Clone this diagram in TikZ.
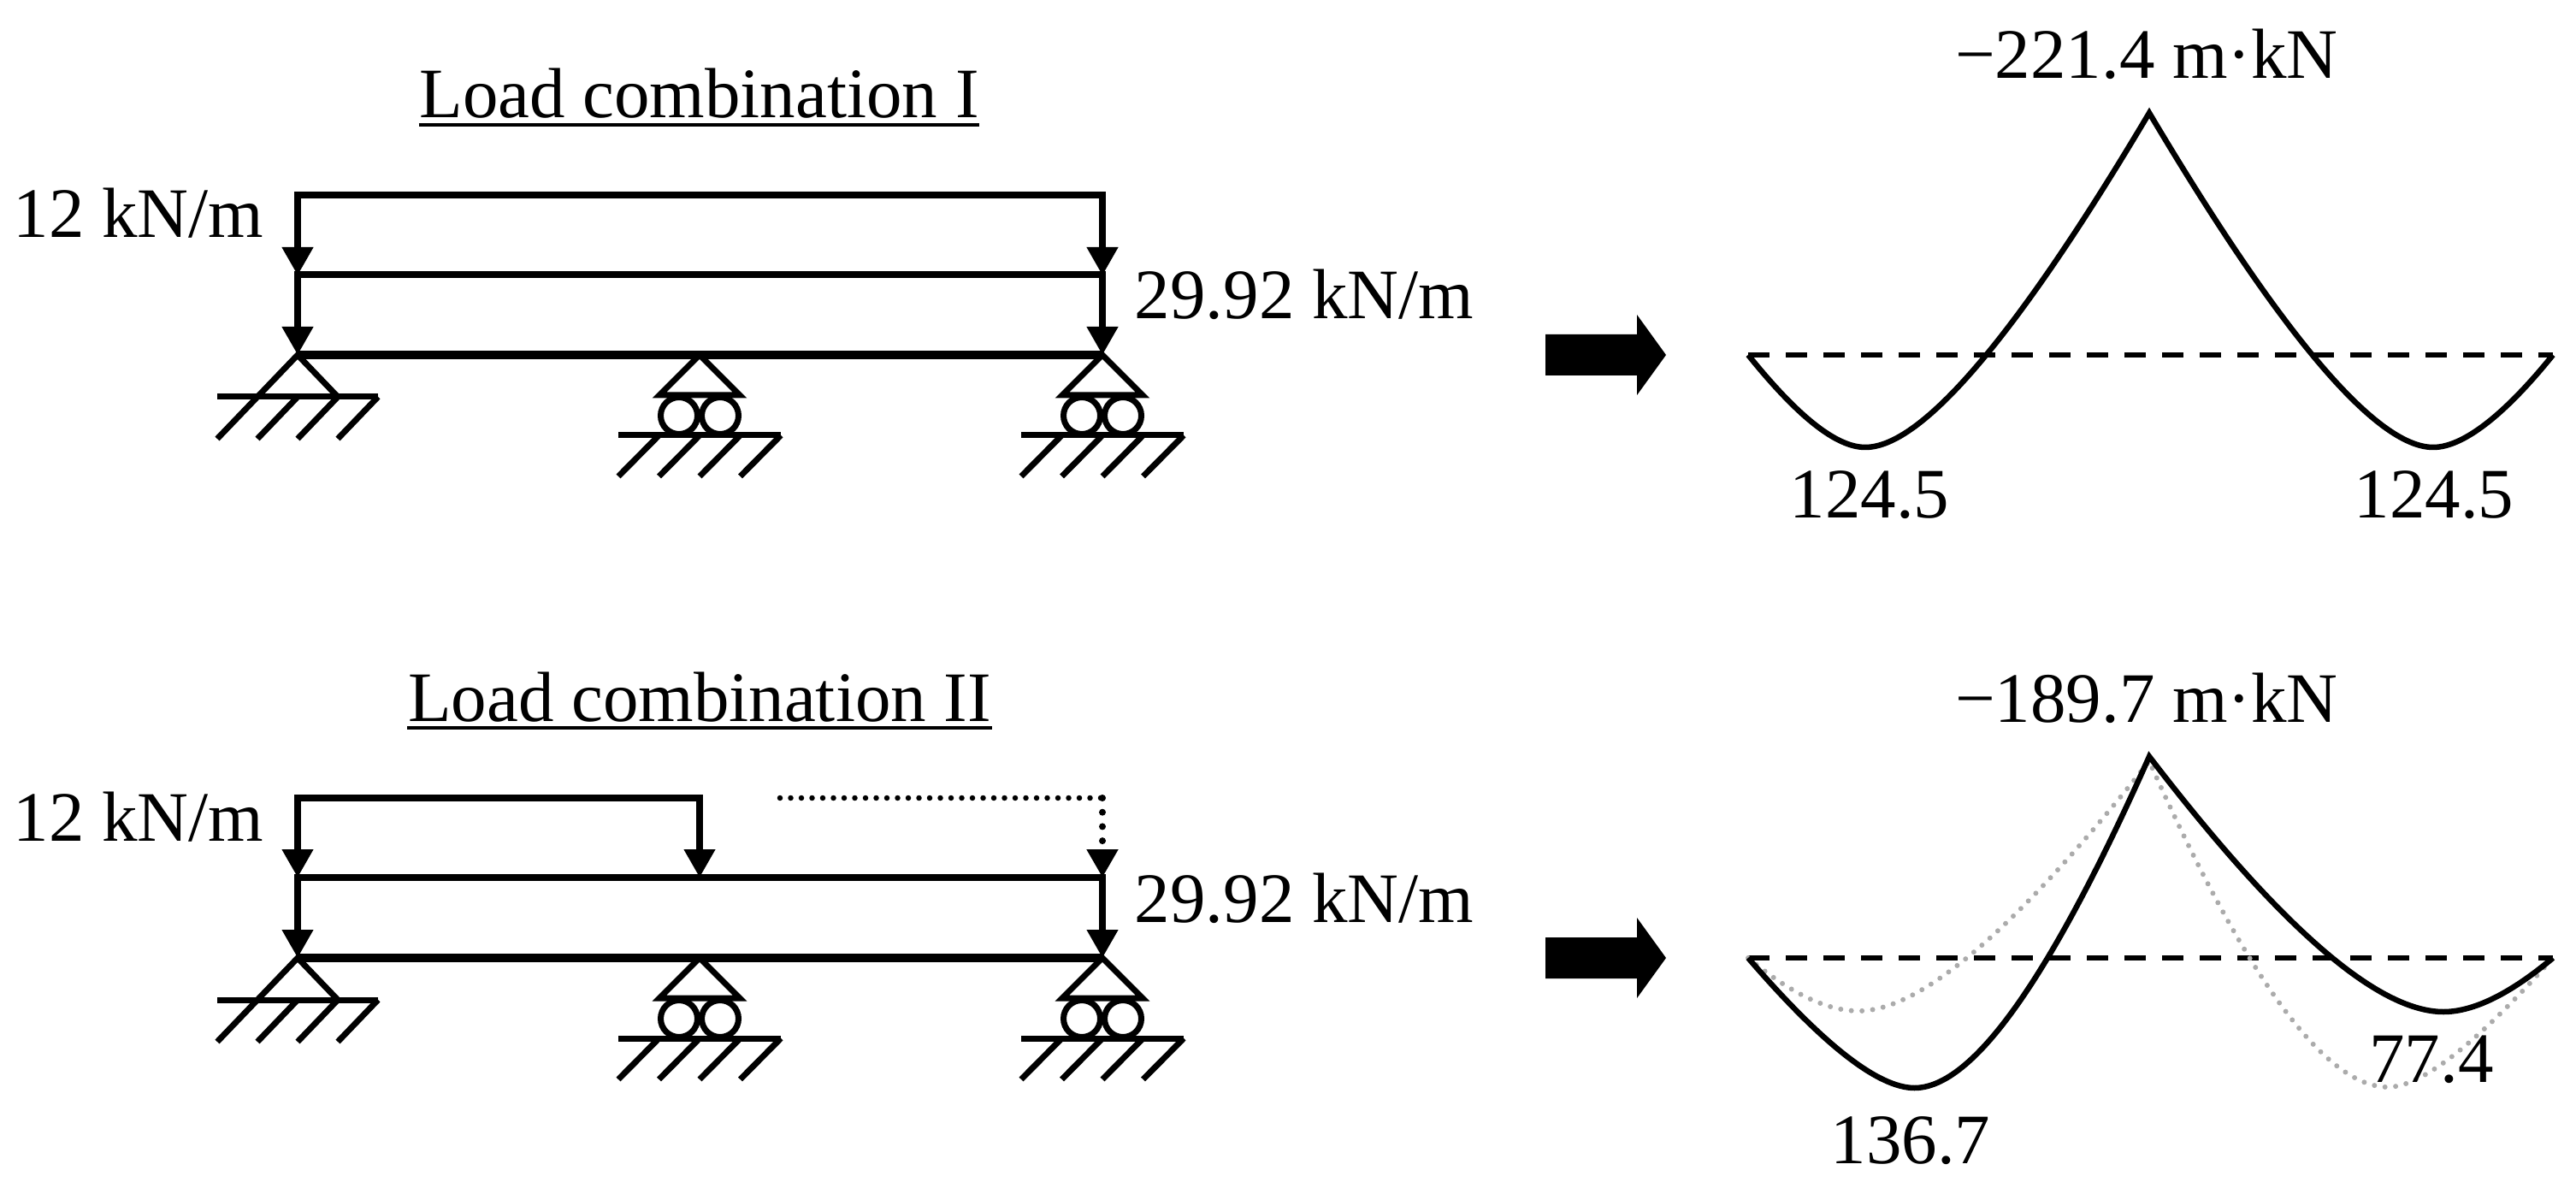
\documentclass[tikz,border=0pt]{standalone}
\usepackage{fontspec}
\setmainfont{Liberation Serif}
\usetikzlibrary{arrows.meta}
\definecolor{shadow}{HTML}{ABABAB}
\newcommand{\spanleft}{3.48}
\newcommand{\spanmid}{8.18}
\newcommand{\spanright}{12.89}
\tikzset{
    >={Triangle[length=0.33cm,width=0.35cm]},
    label text/.style={inner sep=0pt, anchor=base, font=\fontsize{23.6}{28}\selectfont},
    load line/.style={line width=0.075cm},
    beam line/.style={line width=0.095cm},
    support line/.style={line width=0.07cm},
    moment line/.style={line width=0.065cm},
    base line/.style={line width=0.065cm, dash pattern=on 0.25cm off 0.19cm},
    shadow line/.style={line width=0.06cm, shadow, line cap=round, dash pattern=on 0pt off 0.125cm},
    title rule/.style={line width=0.045cm}
}

\begin{document}
\begin{tikzpicture}
    \useasboundingbox (0, 0) rectangle (30.12, 13.88);

    %Titles
    \node[label text] (titleone) at (8.175, 12.50) {Load combination I};
    \node[label text] (titletwo) at (8.18, 5.45) {Load combination II};
    \draw[title rule] ([yshift=-0.08cm]titleone.base west) -- ([yshift=-0.08cm]titleone.base east);
    \draw[title rule] ([yshift=-0.08cm]titletwo.base west) -- ([yshift=-0.08cm]titletwo.base east);

    %Beams, lower loads, supports, block arrows
    \foreach \by in {9.73, 2.68}{
        \draw[beam line] (\spanleft, \by) -- (\spanright, \by);
        \draw[load line, <->] (\spanleft, \by) -- (\spanleft, \by+0.94) -- (\spanright, \by+0.94) -- (\spanright, \by);
        %Hinge
        \draw[support line] (\spanleft-0.47, \by-0.49) -- (\spanleft, \by) -- (\spanleft+0.47, \by-0.49);
        \draw[support line] (\spanleft-0.94, \by-0.49) -- (\spanleft+0.94, \by-0.49);
        \foreach \i in {-1,...,2}{
            \draw[support line] (\spanleft+\i*0.47, \by-0.49) -- ++(-0.47, -0.49);
        };
        %Rollers
        \foreach \sx in {\spanmid, \spanright}{
            \draw[support line] (\sx-0.47, \by-0.47) -- (\sx, \by) -- (\sx+0.47, \by-0.47) -- cycle;
            \draw[support line] (\sx-0.24, \by-0.71) circle (0.215);
            \draw[support line] (\sx+0.24, \by-0.71) circle (0.215);
            \draw[support line] (\sx-0.95, \by-0.94) -- (\sx+0.95, \by-0.94);
            \foreach \i in {-1,...,2}{
                \draw[support line] (\sx+\i*0.475, \by-0.94) -- ++(-0.475, -0.48);
            };
        };
        \fill (18.07, \by+0.24) -- (19.14, \by+0.24) -- (19.14, \by+0.47) -- (19.48, \by) -- (19.14, \by-0.47) -- (19.14, \by-0.24) -- (18.07, \by-0.24) -- cycle;
        \draw[base line] (20.44, \by) -- (29.85, \by);
    };

    %Upper loads
    \draw[load line, <->] (\spanleft, 10.66) -- (\spanleft, 11.60) -- (\spanright, 11.60) -- (\spanright, 10.66);
    \draw[load line, <->] (\spanleft, 3.62) -- (\spanleft, 4.55) -- (\spanmid, 4.55) -- (\spanmid, 3.62);
    \draw[line width=0.065cm, line cap=round, dash pattern=on 0pt off 0.125cm] (9.12, 4.55) -- (\spanright, 4.55);
    \draw[line width=0.08cm, line cap=round, dash pattern=on 0pt off 0.167cm, ->] (\spanright, 4.55) -- (\spanright, 3.62);

    %Load labels
    \foreach \ly/\nm in {11.10/a, 4.05/b}{
        \node[label text] (dead\nm) at (1.62, \ly) {12 kN/m};
    };
    \foreach \ly/\nm in {10.15/a, 3.10/b}{
        \node[label text] (live\nm) at (15.25, \ly) {29.92 kN/m};
    };

    %Moment I
    \draw[moment line] (20.44, 9.73) .. controls (21.02, 9.01) and (21.47, 8.65) .. (21.81, 8.65)
        .. controls (22.47, 8.65) and (23.58, 9.95) .. (25.13, 12.56)
        .. controls (26.68, 9.95) and (27.79, 8.65) .. (28.45, 8.65)
        .. controls (28.79, 8.65) and (29.27, 9.01) .. (29.85, 9.73);

    %Moment II, with moment I behind it
    \draw[shadow line] (20.44, 2.68) .. controls (20.93, 2.27) and (21.36, 2.06) .. (21.73, 2.06)
        .. controls (22.46, 2.06) and (23.59, 3.03) .. (25.13, 4.98)
        .. controls (26.26, 2.44) and (27.19, 1.17) .. (27.92, 1.17)
        .. controls (28.31, 1.17) and (28.95, 1.67) .. (29.85, 2.68);
    \draw[moment line] (20.44, 2.68) .. controls (21.31, 1.67) and (21.96, 1.16) .. (22.385, 1.16)
        .. controls (23.07, 1.16) and (23.98, 2.45) .. (25.13, 5.035)
        .. controls (26.66, 3.04) and (27.80, 2.05) .. (28.57, 2.05)
        .. controls (28.92, 2.05) and (29.35, 2.26) .. (29.85, 2.68);

    %Moment labels
    \node[label text] (peakone) at (25.10, 12.96) {−221.4 m·kN};
    \node[label text] (peaktwo) at (25.10, 5.44) {−189.7 m·kN};
    \node[label text] (spanonea) at (21.86, 7.82) {124.5};
    \node[label text] (spanoneb) at (28.46, 7.82) {124.5};
    \node[label text] (spantwoa) at (22.34, 0.28) {136.7};
    \node[label text] (spantwob) at (28.43, 1.23) {77.4};
\end{tikzpicture}
\end{document}
